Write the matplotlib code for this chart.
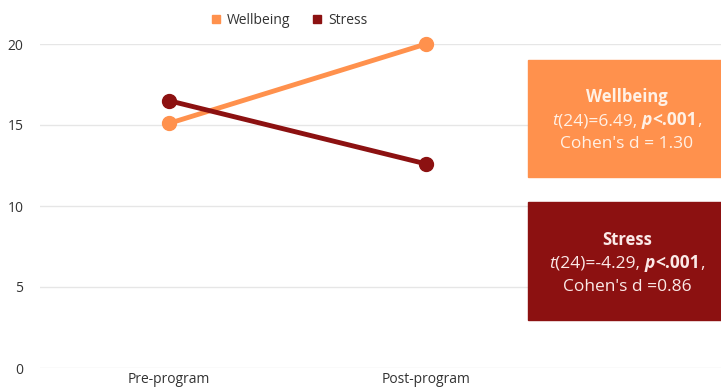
import matplotlib
matplotlib.use("Agg")
import matplotlib.pyplot as plt
from matplotlib.lines import Line2D

plt.rcParams['font.family'] = ['Open Sans', 'DejaVu Sans']

categories = ["Pre-program", "Post-program"]
wellbeing = [15.1, 20.0]
stress = [16.5, 12.6]
yticks = [0, 5, 10, 15, 20]

c_well = "#FF914D"
c_stress = "#8C1111"

W, H = 721, 389
fig = plt.figure(figsize=(W / 100, H / 100), dpi=100)
ax = fig.add_axes([40 / W, (H - 368) / H, 1 - 40 / W, (368 - 44) / H])

x = list(range(len(categories)))
ax.plot(x, wellbeing, color=c_well, lw=3.5, marker='o', ms=10, clip_on=False, zorder=3)
ax.plot(x, stress, color=c_stress, lw=3.5, marker='o', ms=10, clip_on=False, zorder=4)

ax.set_xlim(-0.502, 2.148)
ax.set_ylim(0, 20)
ax.set_yticks(yticks)
ax.set_xticks(x)
ax.set_xticklabels(categories)
ax.grid(axis='y', color='#e6e6e6', lw=1)
ax.set_axisbelow(True)
for s in ax.spines.values():
    s.set_visible(False)
ax.tick_params(axis='both', length=0, labelsize=10, labelcolor='#333333')
ax.tick_params(axis='y', pad=12)
ax.tick_params(axis='x', pad=3)

# legend
handles = [Line2D([], [], ls='none', marker='s', ms=6, color=c_well),
           Line2D([], [], ls='none', marker='s', ms=6, color=c_stress)]
fig.legend(handles, ["Wellbeing", "Stress"], loc='center', bbox_to_anchor=(289 / W, 1 - 20 / H),
           ncol=2, frameon=False, fontsize=10, handlelength=0.8, handletextpad=0.4,
           columnspacing=1.5, labelcolor='#333333')

# boxes
from matplotlib.patches import Rectangle
fig.patches.append(Rectangle((528 / W, 1 - 177 / H), 193 / W, 117 / H, transform=fig.transFigure,
                             color=c_well, zorder=5))
fig.patches.append(Rectangle((528 / W, 1 - 320 / H), 193 / W, 118 / H, transform=fig.transFigure,
                             color=c_stress, zorder=5))

renderer = fig.canvas.get_renderer()


def rich_line(pieces, cx, ybase, color, size=12.5):
    texts = []
    for s, style, weight in pieces:
        t = fig.text(0, 1 - ybase / H, s, fontsize=size, style=style, weight=weight,
                     color=color, va='baseline', ha='left', zorder=10)
        texts.append(t)
    widths = [t.get_window_extent(renderer).width for t in texts]
    total = sum(widths)
    xpos = cx - total / 2
    for t, w in zip(texts, widths):
        t.set_x(xpos / W)
        xpos += w


cx = 627
tc_w = "#FFF1E6"
rich_line([("Wellbeing", 'normal', 'bold')], cx, 102, tc_w, 12)
rich_line([("t", 'italic', 'normal'), ("(24)=6.49, ", 'normal', 'normal'),
           ("p", 'italic', 'bold'), ("<.001", 'normal', 'bold'), (",", 'normal', 'normal')],
          cx, 125, tc_w)
rich_line([("Cohen's d = 1.30", 'normal', 'normal')], cx, 148, tc_w)

tc_s = "#FBE9E7"
rich_line([("Stress", 'normal', 'bold')], cx, 245, tc_s, 12)
rich_line([("t", 'italic', 'normal'), ("(24)=-4.29, ", 'normal', 'normal'),
           ("p", 'italic', 'bold'), ("<.001", 'normal', 'bold'), (",", 'normal', 'normal')],
          cx, 268, tc_s)
rich_line([("Cohen's d =0.86", 'normal', 'normal')], cx, 291, tc_s)

fig.savefig("out.png", dpi=100)
